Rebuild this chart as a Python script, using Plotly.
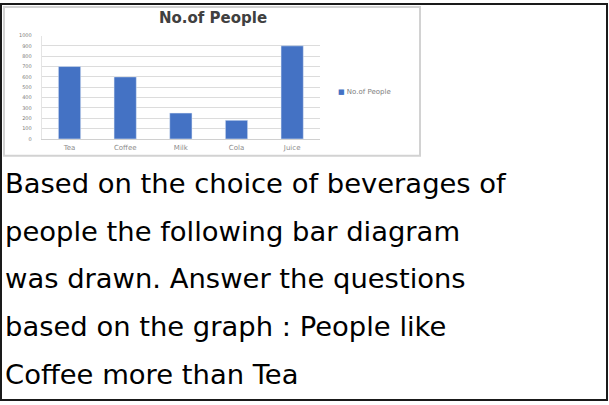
import plotly.graph_objects as go

# chart data
beverages = ["Tea", "Coffee", "Milk", "Cola", "Juice"]
people = [700, 600, 250, 180, 900]
y_ticks = [0, 100, 200, 300, 400, 500, 600, 700, 800, 900, 1000]

title = "No.of People"
series_name = "No.of People"
caption_lines = [
    "Based on the choice of beverages of",
    "people the following bar diagram",
    "was drawn. Answer the questions",
    "based on the graph : People like",
    "Coffee more than Tea",
]

W, H = 609, 405
BLUE = "#4472C4"


def px_x(x):
    return x / W


def px_y(y):
    return 1 - y / H


fig = go.Figure(
    go.Bar(x=beverages, y=people, name=series_name,
           marker_color=BLUE, showlegend=False)
)

# caption text below the chart image, one annotation per line
annotations = []
for i, line in enumerate(caption_lines):
    baseline = 192.7 + 48.4 * i
    annotations.append(dict(
        text=line, xref="paper", yref="paper",
        x=px_x(3), y=px_y(baseline - 9.6),
        xanchor="left", yanchor="middle", showarrow=False,
        font=dict(family="DejaVu Sans", size=27.4, color="black"),
    ))

# legend-like label on the right of the chart
annotations.append(dict(
    text="<span style='color:%s'>■</span> %s" % (BLUE, series_name),
    xref="paper", yref="paper", x=px_x(336), y=px_y(90),
    xanchor="left", yanchor="middle", showarrow=False,
    font=dict(family="DejaVu Sans", size=7, color="#808080"),
))

fig.update_layout(
    width=W, height=H,
    margin=dict(l=0, r=0, t=0, b=0),
    paper_bgcolor="white", plot_bgcolor="white",
    bargap=0.6,
    title=dict(text="<b>%s</b>" % title, x=px_x(213), y=px_y(18),
               xanchor="center", yanchor="middle",
               font=dict(family="DejaVu Sans", size=15, color="#404040")),
    xaxis=dict(domain=[px_x(41.7), px_x(320)], showgrid=False,
               showline=True, linecolor="#d0d0d0", linewidth=1,
               tickfont=dict(family="DejaVu Sans", size=7, color="#8c8c8c"),
               ticklabelstandoff=2),
    yaxis=dict(domain=[px_y(138), px_y(33)], range=[0, 1000],
               tickvals=y_ticks, showgrid=True, gridcolor="#dcdcdc",
               showline=True, linecolor="#e4e4e4", zeroline=False,
               tickfont=dict(family="DejaVu Sans", size=5, color="#7a7a7a"),
               ticklabelstandoff=8),
    annotations=annotations,
    shapes=[
        # frame of the embedded chart picture
        dict(type="rect", xref="paper", yref="paper",
             x0=px_x(4), x1=px_x(420), y0=px_y(155), y1=px_y(4),
             line=dict(color="#d2d2d2", width=2), fillcolor="white",
             layer="below"),
        # outer black border
        dict(type="rect", xref="paper", yref="paper",
             x0=px_x(1), x1=px_x(607), y0=px_y(403), y1=px_y(1),
             line=dict(color="#1a1a1a", width=2), layer="above"),
    ],
)

# drop the default page margin so the figure sits at the window origin
fig.write_html("out.html", config={"displayModeBar": False},
               post_script="document.body.style.margin='0';")
